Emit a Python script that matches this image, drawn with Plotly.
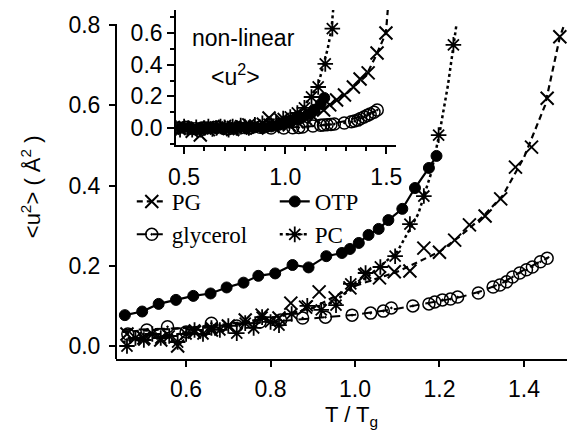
import plotly.graph_objects as go

# ---------------- main panel data ----------------
otp_T = [0.455, 0.496, 0.535, 0.576, 0.617, 0.658, 0.696, 0.736, 0.771, 0.811, 0.852, 0.890,
         0.932, 0.969, 0.988, 1.009, 1.032, 1.056, 1.079, 1.112, 1.142, 1.175, 1.193]
otp_u = [0.077, 0.086, 0.105, 0.115, 0.125, 0.131, 0.146, 0.158, 0.175, 0.181, 0.202, 0.196,
         0.224, 0.232, 0.242, 0.257, 0.277, 0.292, 0.314, 0.342, 0.394, 0.444, 0.474]

pc_T = [0.46, 0.48, 0.50, 0.52, 0.54, 0.56, 0.58, 0.60, 0.62, 0.64, 0.66, 0.68, 0.70, 0.72,
        0.74, 0.76, 0.78, 0.80, 0.82, 0.85, 0.887, 0.92, 0.955, 0.99, 1.025, 1.06, 1.095,
        1.13, 1.163, 1.198, 1.233]
pc_u = [0.0, 0.02, 0.015, 0.03, 0.02, 0.025, 0.01, 0.03, 0.04, 0.03, 0.045, 0.04, 0.05, 0.032,
        0.057, 0.045, 0.072, 0.06, 0.052, 0.08, 0.10, 0.09, 0.102, 0.155, 0.182, 0.197, 0.224,
        0.304, 0.374, 0.526, 0.751]

pg_T = [0.46, 0.50, 0.54, 0.58, 0.62, 0.66, 0.70, 0.74, 0.78, 0.82, 0.848, 0.883, 0.915,
        0.953, 0.988, 1.023, 1.058, 1.093, 1.130, 1.163, 1.200, 1.236, 1.271, 1.308, 1.345,
        1.380, 1.418, 1.455, 1.485]
pg_u = [0.03, 0.02, 0.015, 0.0, 0.035, 0.04, 0.05, 0.065, 0.077, 0.07, 0.107, 0.097, 0.135,
        0.120, 0.145, 0.177, 0.170, 0.185, 0.187, 0.244, 0.234, 0.264, 0.302, 0.324, 0.367,
        0.446, 0.496, 0.618, 0.771]

gly_T = [0.462, 0.507, 0.556, 0.60, 0.66, 0.72, 0.775, 0.824, 0.876, 0.93, 0.993, 1.037, 1.067,
         1.086, 1.137, 1.175, 1.189, 1.207, 1.226, 1.243, 1.292, 1.327, 1.343, 1.359, 1.373,
         1.39, 1.406, 1.42, 1.439, 1.455]
gly_u = [0.03, 0.04, 0.048, 0.035, 0.057, 0.05, 0.06, 0.065, 0.07, 0.072, 0.077, 0.082, 0.087,
         0.095, 0.10, 0.105, 0.11, 0.115, 0.117, 0.122, 0.132, 0.147, 0.152, 0.16, 0.172,
         0.182, 0.19, 0.197, 0.21, 0.219]

# curves drawn through the data
pc_fit_T = [0.45, 0.55, 0.65, 0.75, 0.85, 0.95, 1.0, 1.05, 1.10, 1.15, 1.18, 1.20, 1.22, 1.24]
pc_fit_u = [0.01, 0.025, 0.04, 0.06, 0.08, 0.11, 0.15, 0.19, 0.235, 0.33, 0.43, 0.53, 0.65, 0.80]
pg_fit_T = [0.45, 0.6, 0.7, 0.8, 0.9, 1.0, 1.1, 1.2, 1.25, 1.3, 1.35, 1.4, 1.45, 1.485, 1.495]
pg_fit_u = [0.035, 0.045, 0.055, 0.07, 0.095, 0.15, 0.185, 0.235, 0.275, 0.32, 0.375, 0.47,
            0.6, 0.77, 0.80]
gly_fit_T = [0.45, 0.6, 0.8, 1.0, 1.1, 1.2, 1.25, 1.3, 1.35, 1.4, 1.46]
gly_fit_u = [0.04, 0.045, 0.06, 0.078, 0.093, 0.112, 0.122, 0.137, 0.158, 0.19, 0.222]

# ---------------- inset data (non-linear <u^2>) ----------------
in_otp_u = [0.0, 0.005, -0.005, 0.0, 0.005, 0.0, -0.005, 0.0, 0.005, 0.0, 0.005, 0.0,
            0.01, 0.02, 0.025, 0.035, 0.045, 0.055, 0.065, 0.085, 0.115, 0.15, 0.19]
in_pc_u = [0.0, -0.01, 0.01, 0.0, -0.01, 0.005, -0.01, 0.0, 0.01, -0.005, 0.0, 0.01, 0.005,
           -0.01, 0.01, 0.0, 0.015, 0.01, 0.0, 0.02, 0.03, 0.025, 0.03, 0.06, 0.07, 0.095,
           0.127, 0.196, 0.259, 0.405, 0.627]
in_pg_T = [0.50, 0.54, 0.58, 0.62, 0.66, 0.70, 0.74, 0.78, 0.82, 0.86, 0.92, 0.94, 0.98, 1.02,
           1.06, 1.10, 1.141, 1.19, 1.22, 1.254, 1.293, 1.337, 1.37, 1.41, 1.454, 1.498]
in_pg_u = [0.0, -0.02, -0.044, -0.01, 0.0, 0.01, -0.01, 0.0, 0.02, 0.0, 0.063, 0.01, 0.05,
           0.02, 0.04, 0.06, 0.07, 0.114, 0.146, 0.177, 0.209, 0.259, 0.31, 0.348, 0.474, 0.60]
in_gly_u = [0.0, 0.005, -0.005, 0.0, 0.005, -0.005, 0.0, 0.0, 0.005, 0.0, 0.0, 0.002, 0.004,
            0.006, 0.013, 0.017, 0.019, 0.021, 0.023, 0.025, 0.032, 0.04, 0.044, 0.05, 0.06,
            0.07, 0.08, 0.088, 0.10, 0.114]
in_pc_fit_T = [0.46, 0.9, 1.0, 1.06, 1.09, 1.12, 1.16, 1.19, 1.21, 1.229, 1.237]
in_pc_fit_u = [0.0, 0.01, 0.045, 0.095, 0.127, 0.19, 0.259, 0.405, 0.5, 0.627, 0.745]
in_pg_fit_T = [0.46, 0.9, 1.0, 1.1, 1.15, 1.2, 1.25, 1.3, 1.35, 1.4, 1.45, 1.498, 1.507]
in_pg_fit_u = [0.0, 0.01, 0.03, 0.06, 0.085, 0.125, 0.17, 0.215, 0.27, 0.33, 0.46, 0.60, 0.745]
in_gly_fit_T = [0.46, 1.0, 1.1, 1.2, 1.3, 1.4, 1.46]
in_gly_fit_u = [0.0, 0.002, 0.008, 0.02, 0.045, 0.085, 0.115]

K = "black"
SANS = "Liberation Sans, Arial, sans-serif"
SERIF = "Liberation Serif, Times New Roman, serif"

sty = {
    "PG": dict(sym="x-thin-open", size=13, dash="6px,4px", lw=2.2, mlw=2),
    "glycerol": dict(sym="circle-open-dot", size=12, dash="10px,6px", lw=2, mlw=1.5),
    "OTP": dict(sym="circle", size=11, dash="solid", lw=2.2, mlw=1),
    "PC": dict(sym="asterisk-open", size=13, dash="dot", lw=2.5, mlw=1.8),
}

fig = go.Figure()


def marks(x, y, name, xa, ya):
    s = sty[name]
    return go.Scatter(x=x, y=y, mode="markers", xaxis=xa, yaxis=ya, showlegend=False,
                      marker=dict(symbol=s["sym"], size=s["size"], color=K,
                                  line=dict(color=K, width=s["mlw"])))


def curve(x, y, name, xa, ya):
    s = sty[name]
    return go.Scatter(x=x, y=y, mode="lines", xaxis=xa, yaxis=ya, showlegend=False,
                      line=dict(color=K, width=s["lw"], dash=s["dash"]))


# main panel
fig.add_trace(curve(pg_fit_T, pg_fit_u, "PG", "x", "y"))
fig.add_trace(curve(gly_fit_T, gly_fit_u, "glycerol", "x", "y"))
fig.add_trace(curve(pc_fit_T, pc_fit_u, "PC", "x", "y"))
fig.add_trace(curve(otp_T, otp_u, "OTP", "x", "y"))
fig.add_trace(marks(pg_T, pg_u, "PG", "x", "y"))
fig.add_trace(marks(gly_T, gly_u, "glycerol", "x", "y"))
fig.add_trace(marks(pc_T, pc_u, "PC", "x", "y"))
fig.add_trace(marks(otp_T, otp_u, "OTP", "x", "y"))

# inset
fig.add_trace(curve(in_pg_fit_T, in_pg_fit_u, "PG", "x2", "y2"))
fig.add_trace(curve(in_gly_fit_T, in_gly_fit_u, "glycerol", "x2", "y2"))
fig.add_trace(curve(in_pc_fit_T, in_pc_fit_u, "PC", "x2", "y2"))
fig.add_trace(curve(otp_T, in_otp_u, "OTP", "x2", "y2"))
fig.add_trace(marks(in_pg_T, in_pg_u, "PG", "x2", "y2"))
fig.add_trace(marks(gly_T, in_gly_u, "glycerol", "x2", "y2"))
fig.add_trace(marks(pc_T, in_pc_u, "PC", "x2", "y2"))
fig.add_trace(marks(otp_T, in_otp_u, "OTP", "x2", "y2"))

# legend entries
for name, leg in [("PG", "legend"), ("glycerol", "legend"), ("OTP", "legend2"), ("PC", "legend2")]:
    s = sty[name]
    fig.add_trace(go.Scatter(x=[None], y=[None], mode="lines+markers", name=name, legend=leg,
                             line=dict(color=K, width=s["lw"], dash=s["dash"]),
                             marker=dict(symbol=s["sym"], size=s["size"], color=K,
                                         line=dict(color=K, width=s["mlw"]))))

FS = 23
tickfont = dict(family=SANS, size=FS, color=K)
common = dict(showgrid=False, zeroline=False, ticks="outside", tickcolor=K, tickwidth=1.5,
              tickfont=tickfont, tickformat=".1f")

fig.update_layout(
    width=575, height=430,
    margin=dict(l=116, r=2, t=8, b=71),
    paper_bgcolor="white", plot_bgcolor="rgba(0,0,0,0)",
    xaxis=dict(range=[0.434, 1.502], tick0=0, dtick=0.2, ticklen=6, showline=True,
               linecolor=K, linewidth=2, ticklabelstandoff=2, **common),
    yaxis=dict(range=[-0.0324, 0.8429], tick0=0, dtick=0.2, ticklen=6, showline=False,
               ticklabelstandoff=4, **common),
    xaxis2=dict(domain=[0.1335, 0.6214], anchor="y2", range=[0.461, 1.549], tick0=0, dtick=0.5,
                ticklen=7, showline=True, linecolor=K, linewidth=2, ticklabelstandoff=3,
                minor=dict(dtick=0.1, ticks="outside", ticklen=4, tickcolor=K, tickwidth=1.5),
                **common),
    yaxis2=dict(domain=[0.6097, 0.9943], anchor="x2", range=[-0.107, 0.745], tick0=0, dtick=0.2,
                ticklen=7, showline=True, linecolor=K, linewidth=2,
                minor=dict(dtick=0.1, ticks="outside", ticklen=4, tickcolor=K, tickwidth=1.5),
                **common),
    legend=dict(x=0.035, y=0.51, xanchor="left", yanchor="top", bgcolor="rgba(0,0,0,0)",
                font=dict(family=SERIF, size=FS, color=K), tracegroupgap=0, itemsizing="trace"),
    legend2=dict(x=0.352, y=0.51, xanchor="left", yanchor="top", bgcolor="rgba(0,0,0,0)",
                 font=dict(family=SERIF, size=FS, color=K), tracegroupgap=0, itemsizing="trace"),
    shapes=[dict(type="line", xref="paper", yref="y", x0=0, x1=0, y0=-0.0324, y1=0.803,
                 line=dict(color=K, width=2))],
    annotations=[
        dict(text="non-linear", xref="paper", yref="paper", x=0.282, y=0.9145, showarrow=False,
             xanchor="center", yanchor="middle", font=dict(family=SANS, size=FS, color=K)),
        dict(text="&lt;u<sup>2</sup>&gt;", xref="paper", yref="paper", x=0.265, y=0.809,
             xanchor="center", yanchor="middle",
             showarrow=False, font=dict(family=SANS, size=FS, color=K)),
        dict(text="&lt;u<sup>2</sup>&gt; ( Å<sup>2</sup> )", xref="paper", yref="paper",
             x=-0.188, y=0.49, textangle=-90, showarrow=False, xanchor="center",
             yanchor="middle", font=dict(family=SANS, size=FS - 1, color=K)),
        dict(text="T / T<sub>g</sub>", xref="paper", yref="paper", x=0.523, y=-0.162,
             xanchor="center", yanchor="middle",
             showarrow=False, font=dict(family=SANS, size=FS - 1, color=K)),
    ],
)

fig.write_html("out.html", post_script="document.body.style.margin='0px';",
               config={"displayModeBar": False})
